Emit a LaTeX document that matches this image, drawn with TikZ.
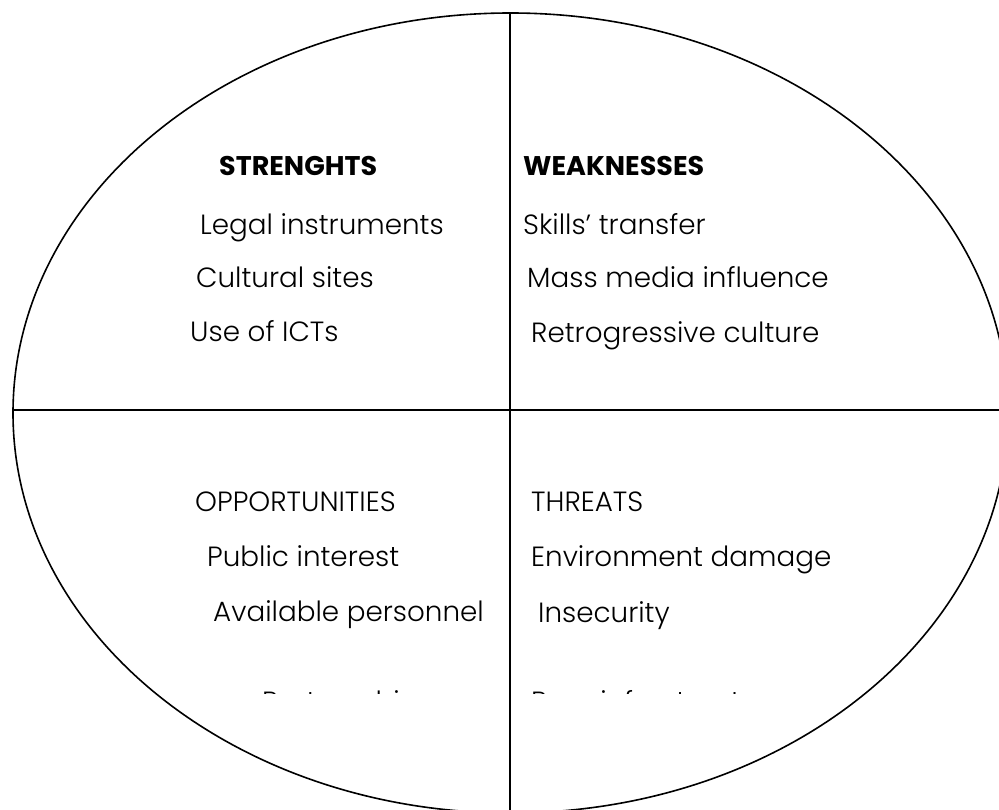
\documentclass[tikz,border=0pt]{standalone}
\usepackage{fontspec}
\setmainfont{Poppins}[UprightFont={* Light},BoldFont={* Bold}]
\begin{document}
\begin{tikzpicture}[x=1pt,y=-1pt,
  lbl/.style={anchor=base west,inner sep=0pt,font=\fontsize{27.8}{33}\selectfont},
  hdr/.style={lbl,font=\fontsize{27}{33}\selectfont\bfseries},
  edge/.style={line width=1.6pt,black}]
\useasboundingbox (0,0) rectangle (999,810);
\clip (0,0) rectangle (999,810);
\draw[edge] (510.5,413) ellipse [x radius=497.5, y radius=400];
\coordinate (top) at (510,13);
\coordinate (bot) at (510,810);
\coordinate (lft) at (13,410);
\coordinate (rgt) at (999,410);
\draw[edge] (top) -- (bot);
\draw[edge] (lft) -- (rgt);
% Strengths
\node[hdr] (s0) at (219,176) {STRENGHTS};
\node[lbl] (s1) at (200,235) {Legal instruments};
\node[lbl] (s2) at (196,288) {Cultural sites};
\node[lbl] (s3) at (190,342) {Use of ICTs};
% Weaknesses
\node[hdr] (w0) at (523,176) {WEAKNESSES};
\node[lbl] (w1) at (523,235) {Skills’ transfer};
\node[lbl] (w2) at (527,288) {Mass media influence};
\node[lbl] (w3) at (531,343) {Retrogressive culture};
% Opportunities
\node[lbl] (o0) at (195,511) {OPPORTUNITIES};
\node[lbl] (o1) at (207,566) {Public interest};
\node[lbl] (o2) at (213,621) {Available personnel};
% Threats
\node[lbl] (t0) at (531,511) {THREATS};
\node[lbl] (t1) at (531,566) {Environment damage};
\node[lbl] (t2) at (538,622) {Insecurity};
% clipped last row
\begin{scope}
\clip (0,0) rectangle (999,693);
\node[lbl] (o3) at (262,711) {Partnerships};
\node[lbl] (t3) at (531,711) {Poor infrastructure};
\end{scope}
\end{tikzpicture}
\end{document}
